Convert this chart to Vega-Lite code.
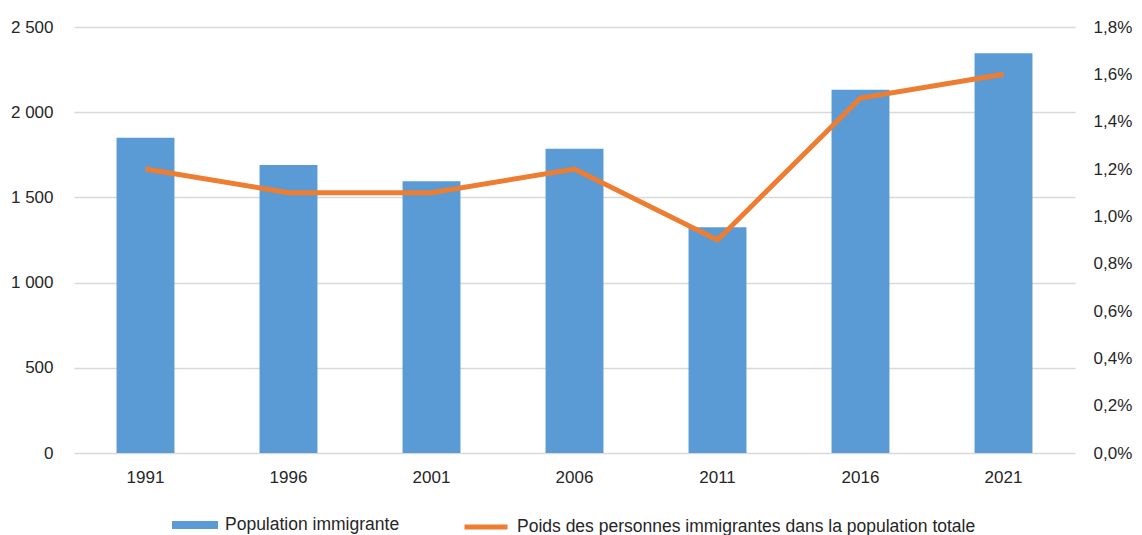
{
  "$schema": "https://vega.github.io/schema/vega-lite/v6.json",
  "width": 1001,
  "height": 426,
  "autosize": {"type": "none"},
  "padding": {"left": 74, "top": 27, "right": 67, "bottom": 82},
  "background": "white",
  "config": {
    "locale": {"number": {"decimal": ",", "thousands": " ", "grouping": [3], "currency": ["", " €"]}},
    "view": {"stroke": null},
    "font": "Liberation Sans, sans-serif",
    "axis": {"labelFont": "Liberation Sans, sans-serif", "labelFontSize": 17, "labelColor": "#262626", "domain": false, "ticks": false, "title": null},
    "legend": {"labelFont": "Liberation Sans, sans-serif", "labelFontSize": 17.5, "labelColor": "#262626", "labelLimit": 800}
  },
  "data": {"values": [
    {"annee": "1991", "population": 1850, "poids": 0.012},
    {"annee": "1996", "population": 1690, "poids": 0.011},
    {"annee": "2001", "population": 1595, "poids": 0.011},
    {"annee": "2006", "population": 1785, "poids": 0.012},
    {"annee": "2011", "population": 1325, "poids": 0.009},
    {"annee": "2016", "population": 2132, "poids": 0.015},
    {"annee": "2021", "population": 2346, "poids": 0.016}
  ]},
  "encoding": {
    "x": {"field": "annee", "type": "nominal", "sort": null,
      "scale": {"paddingInner": 0.595, "paddingOuter": 0.2975},
      "axis": {"labelAngle": 0, "labelPadding": 16, "grid": false}}
  },
  "layer": [
    {
      "mark": {"type": "bar", "color": "#5B9BD5"},
      "encoding": {
        "y": {"field": "population", "type": "quantitative",
          "scale": {"domain": [0, 2500], "nice": false},
          "axis": {"values": [0, 500, 1000, 1500, 2000, 2500], "format": ",d", "grid": true, "gridColor": "#d9d9d9", "gridWidth": 1.5, "labelPadding": 21}},
        "color": {"datum": "Population immigrante", "type": "nominal",
          "scale": {"range": ["#5B9BD5"]},
          "legend": {"title": null, "orient": "none", "legendX": 98, "legendY": 475, "symbolType": "M-1,-0.17H1V0.17H-1Z", "symbolSize": 2116, "symbolStrokeWidth": 0, "symbolOpacity": 1, "labelOffset": 7}}
      }
    },
    {
      "mark": {"type": "line", "color": "#ED7D31", "strokeWidth": 5},
      "encoding": {
        "y": {"field": "poids", "type": "quantitative",
          "scale": {"domain": [0, 0.018], "nice": false},
          "axis": {"orient": "right", "values": [0, 0.002, 0.004, 0.006, 0.008, 0.01, 0.012, 0.014, 0.016, 0.018], "format": ".1%", "grid": false, "labelPadding": 18}},
        "color": {"datum": "Poids des personnes immigrantes dans la population totale", "type": "nominal",
          "scale": {"range": ["#ED7D31"]},
          "legend": {"title": null, "orient": "none", "legendX": 388, "legendY": 476, "symbolType": "stroke", "symbolSize": 1849, "symbolStrokeWidth": 5, "labelOffset": 7}}
      }
    }
  ],
  "resolve": {"scale": {"y": "independent", "color": "independent"}}
}
